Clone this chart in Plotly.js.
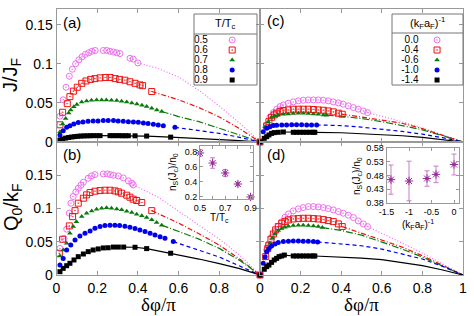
<!DOCTYPE html>
<html><head><meta charset="utf-8">
<script src="https://cdn.plot.ly/plotly-3.0.1.min.js"></script>
<style>html,body{margin:0;padding:0;background:#fff}#chart{width:474px;height:316px}</style>
</head><body><div id="chart"></div>
<script>
// ---------- legend labels ----------
const tempLabels = ['0.5','0.6','0.7','0.8','0.9'];
const kaLabels = ['0.0','-0.4','-0.6','-1.0','-1.4'];

// ---------- panel (a): J/J_F, temperature series ----------
const a1x=[0.017,0.033,0.047,0.063,0.078,0.094,0.110,0.126,0.142,0.158,0.174,0.190,0.230,0.247,0.263,0.280,0.296,0.312,0.361,0.377,0.400];
const a1y=[0.033,0.054,0.070,0.084,0.093,0.100,0.105,0.109,0.112,0.114,0.116,0.117,0.117,0.117,0.116,0.115,0.114,0.113,0.107,0.106,0.101];
const a1cx=[0.400,0.5,0.6,0.7,0.8,0.9,1.0];
const a1cy=[0.101,0.094,0.083,0.066,0.046,0.024,0];
const a2x=[0.017,0.030,0.053,0.066,0.083,0.102,0.124,0.145,0.168,0.189,0.214,0.240,0.263,0.288,0.310,0.336,0.361,0.386,0.410,0.423,0.468];
const a2y=[0.022,0.038,0.049,0.058,0.065,0.070,0.075,0.078,0.080,0.081,0.082,0.0825,0.0825,0.081,0.080,0.079,0.077,0.075,0.073,0.072,0.0645];
const a2cx=[0.468,0.6,0.7,0.8,0.9,1.0];
const a2cy=[0.0645,0.054,0.044,0.032,0.017,0];
const a3x=[0.017,0.030,0.045,0.060,0.070,0.085,0.100,0.124,0.148,0.172,0.197,0.222,0.245,0.270,0.296,0.320,0.345,0.370,0.395,0.420,0.443,0.468,0.493,0.517];
const a3y=[0.013,0.023,0.030,0.037,0.041,0.045,0.048,0.051,0.0525,0.0534,0.0538,0.0538,0.0538,0.0534,0.053,0.052,0.051,0.050,0.0487,0.047,0.0453,0.0432,0.041,0.039];
const a3cx=[0.517,0.6,0.7,0.8,0.9,1.0];
const a3cy=[0.039,0.0325,0.026,0.018,0.009,0];
const a4x=[0.017,0.033,0.050,0.066,0.085,0.107,0.130,0.155,0.180,0.204,0.230,0.254,0.280,0.303,0.328,0.353,0.378,0.402,0.427,0.450,0.476,0.500,0.525,0.582];
const a4y=[0.009,0.0145,0.0188,0.0209,0.0231,0.0248,0.0256,0.0265,0.0269,0.0269,0.0274,0.0274,0.0274,0.0269,0.0265,0.026,0.0256,0.0252,0.0244,0.0235,0.0227,0.0218,0.0209,0.0188];
const a4cx=[0.582,0.7,0.8,0.9,1.0];
const a4cy=[0.0188,0.015,0.011,0.006,0];
const a5x=[0.017,0.030,0.045,0.060,0.075,0.090,0.105,0.120,0.135,0.150,0.165,0.180,0.197,0.214,0.263,0.278,0.293,0.308,0.323,0.338,0.353,0.386,0.443,0.561];
const a5y=[0.0026,0.0038,0.0050,0.0058,0.0064,0.0069,0.0073,0.0076,0.0078,0.0079,0.0080,0.0081,0.0081,0.0081,0.0081,0.0081,0.0081,0.0081,0.0080,0.0080,0.0080,0.0079,0.0076,0.0062];
const a5cx=[0.214,0.3,0.386,0.443,0.561,0.7,0.8,0.9,1.0];
const a5cy=[0.0081,0.0081,0.0079,0.0076,0.0062,0.0046,0.0033,0.0018,0];

// ---------- panel (b): Q0/k_F, temperature series ----------
const b1x=[0.017,0.037,0.050,0.063,0.071,0.082,0.095,0.107,0.120,0.132,0.156,0.172,0.189,0.230,0.250,0.265,0.280,0.304,0.328,0.353,0.370,0.377];
const b1y=[0.040,0.055,0.069,0.093,0.108,0.118,0.125,0.1305,0.135,0.1395,0.1455,0.149,0.151,0.152,0.152,0.151,0.150,0.149,0.146,0.1415,0.138,0.1355];
const b1cx=[0.377,0.5,0.6,0.7,0.8,0.9,1.0];
const b1cy=[0.1355,0.117,0.096,0.075,0.054,0.030,0];
const b2x=[0.014,0.030,0.063,0.079,0.091,0.107,0.132,0.148,0.165,0.189,0.214,0.238,0.263,0.287,0.304,0.320,0.345,0.361,0.377,0.394,0.419,0.468];
const b2y=[0.0327,0.0537,0.0738,0.0878,0.0968,0.108,0.1155,0.1205,0.124,0.126,0.127,0.1275,0.1275,0.1265,0.125,0.123,0.120,0.117,0.114,0.112,0.109,0.0968];
const b2cx=[0.468,0.6,0.7,0.8,0.9,1.0];
const b2cy=[0.0968,0.078,0.062,0.045,0.024,0];
const b3x=[0.017,0.033,0.050,0.066,0.082,0.098,0.124,0.148,0.173,0.197,0.222,0.246,0.270,0.296,0.320,0.345,0.370,0.394,0.419,0.443,0.468,0.492,0.517];
const b3y=[0.0286,0.0376,0.0477,0.0628,0.0728,0.080,0.0878,0.093,0.0964,0.099,0.1004,0.101,0.1004,0.0994,0.098,0.096,0.094,0.0914,0.089,0.0864,0.083,0.079,0.075];
const b3cx=[0.517,0.6,0.7,0.8,0.9,1.0];
const b3cy=[0.075,0.066,0.054,0.040,0.022,0];
const b4x=[0.017,0.033,0.050,0.070,0.091,0.115,0.140,0.165,0.189,0.214,0.238,0.263,0.287,0.310,0.336,0.361,0.386,0.410,0.435,0.460,0.484,0.509,0.533,0.574];
const b4y=[0.015,0.025,0.0376,0.045,0.0527,0.0587,0.0628,0.0663,0.0703,0.0728,0.0743,0.0748,0.0748,0.0743,0.0733,0.0718,0.0698,0.0678,0.0653,0.0628,0.0602,0.0577,0.0552,0.0502];
const b4cx=[0.574,0.7,0.8,0.9,1.0];
const b4cy=[0.0502,0.037,0.027,0.0135,0];
const b5x=[0.017,0.033,0.050,0.066,0.086,0.107,0.132,0.156,0.180,0.205,0.230,0.254,0.280,0.304,0.330,0.386,0.443,0.561];
const b5y=[0.005,0.010,0.014,0.0176,0.0226,0.0276,0.0316,0.0351,0.0376,0.0392,0.0407,0.041,0.042,0.042,0.042,0.0417,0.0397,0.0327];
const b5cx=[0.330,0.386,0.443,0.561,0.7,0.8,0.9,1.0];
const b5cy=[0.042,0.0417,0.0397,0.0327,0.024,0.017,0.0095,0];

// ---------- panel (c): J/J_F, interaction series ----------
const c1x=[0,0.033,0.049,0.066,0.082,0.099,0.115,0.139,0.164,0.189,0.213,0.238,0.263,0.287,0.312,0.336,0.361,0.386,0.410,0.435,0.460,0.484,0.509,0.530];
const c1y=[0,0.0218,0.0316,0.0376,0.0419,0.0453,0.0474,0.0496,0.0513,0.0526,0.0534,0.0538,0.0538,0.0538,0.0534,0.0526,0.0513,0.050,0.0483,0.0462,0.044,0.042,0.0397,0.0376];
const c1cx=[0.530,0.6,0.7,0.8,0.9,1.0];
const c1cy=[0.0376,0.033,0.026,0.018,0.009,0];
const c2x=[0,0.033,0.044,0.057,0.070,0.082,0.099,0.115,0.139,0.164,0.189,0.213,0.238,0.263,0.287,0.312,0.336,0.361,0.386,0.405];
const c2y=[0,0.0205,0.026,0.0316,0.0346,0.0368,0.0389,0.0402,0.041,0.0419,0.0419,0.0419,0.0419,0.0415,0.041,0.0406,0.0397,0.0385,0.0368,0.0355];
const c2cx=[0.405,0.5,0.6,0.7,0.8,0.9,1.0];
const c2cy=[0.0355,0.032,0.028,0.024,0.017,0.0085,0];
const c3x=[0,0.025,0.041,0.057,0.074,0.090,0.115,0.139,0.164,0.189,0.213,0.238,0.263,0.287,0.312,0.328];
const c3y=[0,0.0196,0.026,0.0316,0.0333,0.0346,0.0355,0.0359,0.0363,0.0368,0.0368,0.0363,0.0359,0.0355,0.0346,0.0342];
const c3cx=[0.328,0.4,0.5,0.6,0.7,0.8,0.9,1.0];
const c3cy=[0.0342,0.033,0.030,0.026,0.021,0.0155,0.008,0];
const c4x=[0,0.016,0.033,0.049,0.066,0.082,0.107,0.131,0.156,0.180,0.205,0.230,0.254,0.279];
const c4y=[0,0.0132,0.0175,0.0196,0.021,0.0214,0.0218,0.0218,0.0222,0.0222,0.0222,0.0218,0.0218,0.0218];
const c4cx=[0.279,0.4,0.5,0.6,0.7,0.8,0.9,1.0];
const c4cy=[0.0218,0.021,0.019,0.0165,0.0135,0.010,0.0055,0];
const c5x=[0,0.021,0.033,0.044,0.057,0.070,0.090,0.115,0.164,0.180,0.197,0.213,0.230,0.246,0.262,0.270];
const c5y=[0,0.0047,0.0068,0.009,0.011,0.012,0.0124,0.0128,0.0124,0.0124,0.0124,0.0124,0.0124,0.0124,0.0124,0.0124];
const c5cx=[0.115,0.164,0.270,0.4,0.5,0.6,0.7,0.8,0.9,1.0];
const c5cy=[0.0128,0.0124,0.0124,0.0118,0.0108,0.0095,0.008,0.006,0.0033,0];

// ---------- panel (d): Q0/k_F, interaction series ----------
const d1x=[0,0.033,0.041,0.058,0.074,0.090,0.107,0.123,0.140,0.164,0.189,0.213,0.238,0.263,0.287,0.312,0.336,0.361,0.386,0.410,0.435,0.460,0.484,0.509,0.530];
const d1y=[0,0.0376,0.045,0.0567,0.0653,0.0728,0.080,0.0868,0.0918,0.0964,0.0994,0.1014,0.1029,0.1029,0.1024,0.1014,0.0999,0.0979,0.0954,0.0929,0.0899,0.0864,0.0813,0.0768,0.0728];
const d1cx=[0.530,0.6,0.7,0.8,0.9,1.0];
const d1cy=[0.0728,0.063,0.048,0.033,0.017,0];
const d2x=[0,0.028,0.038,0.044,0.054,0.066,0.077,0.090,0.107,0.123,0.140,0.164,0.189,0.213,0.238,0.263,0.287,0.312,0.336,0.361,0.386,0.405];
const d2y=[0,0.0276,0.0396,0.045,0.0538,0.0617,0.0678,0.0728,0.0778,0.0803,0.0828,0.0843,0.0848,0.0853,0.0853,0.0848,0.0843,0.0833,0.0818,0.0803,0.0768,0.0728];
const d2cx=[0.405,0.5,0.6,0.7,0.8,0.9,1.0];
const d2cy=[0.0728,0.063,0.053,0.042,0.029,0.015,0];
const d3x=[0,0.025,0.036,0.049,0.061,0.074,0.090,0.107,0.123,0.140,0.164,0.189,0.213,0.238,0.263,0.287,0.307];
const d3y=[0,0.025,0.0376,0.0477,0.0552,0.0617,0.0668,0.0698,0.0718,0.0733,0.0743,0.0748,0.0748,0.0743,0.0738,0.0728,0.0713];
const d3cx=[0.307,0.4,0.5,0.6,0.7,0.8,0.9,1.0];
const d3cy=[0.0713,0.067,0.060,0.050,0.039,0.027,0.014,0];
const d4x=[0,0.016,0.025,0.033,0.044,0.057,0.074,0.090,0.115,0.140,0.164,0.189,0.213,0.238,0.263,0.284];
const d4y=[0,0.0176,0.0276,0.035,0.040,0.0437,0.0467,0.0487,0.0502,0.0507,0.0512,0.0512,0.0507,0.0507,0.0502,0.0497];
const d4cx=[0.284,0.4,0.5,0.6,0.7,0.8,0.9,1.0];
const d4cy=[0.0497,0.047,0.044,0.039,0.032,0.024,0.013,0];
const d5x=[0,0.021,0.033,0.044,0.057,0.070,0.082,0.094,0.107,0.120,0.164,0.180,0.197,0.213,0.230,0.246,0.262,0.270];
const d5y=[0,0.0086,0.0126,0.015,0.019,0.0226,0.025,0.0276,0.0286,0.030,0.0286,0.0286,0.0286,0.0286,0.0286,0.0286,0.0286,0.0286];
const d5cx=[0.120,0.164,0.270,0.4,0.5,0.6,0.7,0.8,0.9,1.0];
const d5cy=[0.030,0.0286,0.0286,0.027,0.0255,0.023,0.019,0.014,0.0075,0];

// ---------- insets ----------
const insetT=[0.5,0.6,0.7,0.8,0.9];
const insetTns=[0.787,0.653,0.52,0.373,0.2];
const insetTerr=[0.045,0.07,0.045,0.025,0.015];
const insetK=[-1.4,-1.0,-0.6,-0.4,0.0];
const insetKns=[0.465,0.46,0.469,0.484,0.52];
const insetKerr=[0.053,0.072,0.028,0.03,0.038];

// ---------- styles ----------
const styles=[
  {color:'#ee6fee', symbol:'circle-open-dot', size:6, dash:'1px,2px', open:true},
  {color:'#ee1111', symbol:'square-open-dot', size:6, dash:'5px,2px,1px,2px', open:true},
  {color:'#0a7a0a', symbol:'triangle-up', size:5, dash:'7px,2px,1px,2px', open:false},
  {color:'#0000ee', symbol:'circle', size:5, dash:'4px,3px', open:false},
  {color:'#000000', symbol:'square', size:5, dash:'solid', open:false}
];

const W=474,H=316;
const fx=p=>p/W, fy=p=>1-p/H;
const FONT='Liberation Sans, Arial, sans-serif';

const panels=[
  {xa:'x',ya:'y',  m:[[a1x,a1y],[a2x,a2y],[a3x,a3y],[a4x,a4y],[a5x,a5y]], c:[[a1cx,a1cy],[a2cx,a2cy],[a3cx,a3cy],[a4cx,a4cy],[a5cx,a5cy]]},
  {xa:'x2',ya:'y2',m:[[b1x,b1y],[b2x,b2y],[b3x,b3y],[b4x,b4y],[b5x,b5y]], c:[[b1cx,b1cy],[b2cx,b2cy],[b3cx,b3cy],[b4cx,b4cy],[b5cx,b5cy]]},
  {xa:'x3',ya:'y3',m:[[c1x,c1y],[c2x,c2y],[c3x,c3y],[c4x,c4y],[c5x,c5y]], c:[[c1cx,c1cy],[c2cx,c2cy],[c3cx,c3cy],[c4cx,c4cy],[c5cx,c5cy]]},
  {xa:'x4',ya:'y4',m:[[d1x,d1y],[d2x,d2y],[d3x,d3y],[d4x,d4y],[d5x,d5y]], c:[[d1cx,d1cy],[d2cx,d2cy],[d3cx,d3cy],[d4cx,d4cy],[d5cx,d5cy]]}
];

const traces=[];
panels.forEach(p=>{
  p.c.forEach((s,i)=>{
    const st=styles[i];
    traces.push({x:s[0],y:s[1],mode:'lines',xaxis:p.xa,yaxis:p.ya,
      line:{color:st.color,width:1.2,dash:st.dash},hoverinfo:'skip',showlegend:false});
  });
  p.m.forEach((s,i)=>{
    const st=styles[i];
    traces.push({x:s[0],y:s[1],mode:'markers',xaxis:p.xa,yaxis:p.ya,cliponaxis:false,
      marker:{symbol:st.symbol,size:st.size,color:st.color,line:{color:st.color,width:st.open?1:0}},
      hoverinfo:'skip',showlegend:false});
  });
});

// legend keys (table-style legends)
function legendKeys(labels,xa,ya,labelX,markX,pos){
  const rows=labels.map((_,i)=>i);
  traces.push({x:labels.map(()=>labelX),y:rows,text:labels,mode:'text',textposition:pos,
    textfont:{family:FONT,size:10,color:'#000'},xaxis:xa,yaxis:ya,cliponaxis:false,hoverinfo:'skip',showlegend:false});
  styles.forEach((st,i)=>{
    traces.push({x:[markX],y:[rows[i]],mode:'markers',xaxis:xa,yaxis:ya,cliponaxis:false,
      marker:{symbol:st.symbol,size:st.size,color:st.color,line:{color:st.color,width:st.open?1:0}},
      hoverinfo:'skip',showlegend:false});
  });
}
legendKeys(tempLabels,'x7','y7',0,0.83,'middle right');
legendKeys(kaLabels,'x8','y8',0.5,0.85,'middle left');

// insets
const IC='#9a2f9a', IE='#c77cc7';
[[insetT,insetTns,insetTerr,'x5','y5'],[insetK,insetKns,insetKerr,'x6','y6']].forEach(d=>{
  traces.push({x:d[0],y:d[1],mode:'markers',xaxis:d[3],yaxis:d[4],cliponaxis:false,
    error_y:{type:'data',array:d[2],visible:true,color:IE,thickness:1,width:2.5},
    marker:{symbol:'asterisk-open',size:7,color:IC,line:{color:IC,width:1}},hoverinfo:'skip',showlegend:false});
  traces.push({x:d[0],y:d[1],mode:'markers',xaxis:d[3],yaxis:d[4],cliponaxis:false,
    marker:{symbol:'square',size:3,color:IC},hoverinfo:'skip',showlegend:false});
});

function ax(extra){
  return Object.assign({showline:true,linecolor:'#999',linewidth:1,mirror:'ticks',ticks:'inside',ticklen:4,
    tickcolor:'#999',tickwidth:1,showgrid:false,zeroline:false,fixedrange:true,
    tickfont:{family:FONT,size:14,color:'#000'}},extra);
}
const xL=[fx(56.5),fx(260)], xR=[fx(260),fx(463)], yT=[fy(142),fy(9)], yB=[fy(275),fy(142)];
const xtL=[0,0.2,0.4,0.6,0.8];
const xtR=[0,0.2,0.4,0.6,0.8,1.0];
const yt=[0,0.05,0.1,0.15];
const smallFont={family:FONT,size:9,color:'#000'};
const minorT={tickmode:'array',tickvals:[0.6,0.8],ticks:'inside',ticklen:3,tickcolor:'#999'};

const layout={
  width:W,height:H,margin:{l:0,r:0,t:0,b:0},paper_bgcolor:'#fff',plot_bgcolor:'rgba(0,0,0,0)',
  showlegend:false,font:{family:FONT,color:'#000'},
  xaxis: ax({domain:xL,range:[0,1],anchor:'y',tickvals:xtL,showticklabels:false}),
  yaxis: ax({domain:yT,range:[0,0.17],anchor:'x',tickvals:yt}),
  xaxis2:ax({domain:xL,range:[0,1],anchor:'y2',tickvals:xtL}),
  yaxis2:ax({domain:yB,range:[0,0.2],anchor:'x2',tickvals:yt}),
  xaxis3:ax({domain:xR,range:[0,1],anchor:'y3',tickvals:xtR,showticklabels:false}),
  yaxis3:ax({domain:yT,range:[0,0.17],anchor:'x3',tickvals:yt,showticklabels:false}),
  xaxis4:ax({domain:xR,range:[0,1],anchor:'y4',tickvals:xtR,ticktext:['0','0.2','0.4','0.6','0.8','1']}),
  yaxis4:ax({domain:yB,range:[0,0.2],anchor:'x4',tickvals:yt,showticklabels:false}),
  xaxis5:ax({domain:[fx(200),fx(253)],range:[0.5,0.92],anchor:'y5',tickvals:[0.5,0.7,0.9],minor:minorT,ticklen:3,tickfont:smallFont}),
  yaxis5:ax({domain:[fy(199),fy(146)],range:[0.173,0.88],anchor:'x5',tickvals:[0.2,0.4,0.6,0.8],ticklen:3,tickfont:smallFont}),
  xaxis6:ax({domain:[fx(386.5),fx(458.5)],range:[-1.5,0.1],anchor:'y6',tickvals:[-1.5,-1,-0.5,0],ticktext:['-1.5','-1','-0.5','0'],ticklen:3,tickfont:smallFont}),
  yaxis6:ax({domain:[fy(203),fy(148)],range:[0.38,0.58],anchor:'x6',tickvals:[0.38,0.43,0.48,0.53,0.58],ticklen:3,tickfont:smallFont}),
  xaxis7:{domain:[fx(194),fx(240)],range:[0,1],anchor:'y7',visible:false,fixedrange:true},
  yaxis7:{domain:[fy(85),fy(35)],range:[4.5,-0.5],anchor:'x7',visible:false,fixedrange:true},
  xaxis8:{domain:[fx(392),fx(445)],range:[0,1],anchor:'y8',visible:false,fixedrange:true},
  yaxis8:{domain:[fy(85),fy(35)],range:[4.5,-0.5],anchor:'x8',visible:false,fixedrange:true},
  shapes:[
    {type:'rect',xref:'paper',yref:'paper',x0:fx(194),x1:fx(257),y0:fy(85),y1:fy(14),line:{color:'#777',width:1}},
    {type:'line',xref:'paper',yref:'paper',x0:fx(194),x1:fx(257),y0:fy(34),y1:fy(34),line:{color:'#777',width:1}},
    {type:'rect',xref:'paper',yref:'paper',x0:fx(392),x1:fx(463),y0:fy(85),y1:fy(14),line:{color:'#777',width:1}},
    {type:'line',xref:'paper',yref:'paper',x0:fx(392),x1:fx(463),y0:fy(33),y1:fy(33),line:{color:'#777',width:1}}
  ],
  annotations:[]
};
function ann(text,px,py,size,extra){
  layout.annotations.push(Object.assign({text:text,xref:'paper',yref:'paper',x:fx(px),y:fy(py),
    xanchor:'center',yanchor:'middle',showarrow:false,font:{family:FONT,size:size,color:'#000'}},extra||{}));
}
const SERIF={family:'Liberation Serif, Times New Roman, serif',size:19,color:'#000'};
ann('J/J<sub>F</sub>',12,75,20,{textangle:-90});
ann('Q<sub>0</sub>/k<sub>F</sub>',12,208,20,{textangle:-90});
ann('δφ/π',158,304,19,{font:SERIF});
ann('δφ/π',361,304,19,{font:SERIF});
ann('(a)',72,22,15); ann('(b)',72,155,15); ann('(c)',276,20,15); ann('(d)',276,155,15);
ann('T/T<sub>c</sub>',225.5,24,11);
ann('(k<sub>F</sub>a<sub>F</sub>)<sup>-1</sup>',427,23,11);
ann('n<sub>S</sub>(J<sub>c</sub>)/n<sub>0</sub>',173,172,10,{textangle:-90});
ann('T/T<sub>c</sub>',219,218,10);
ann('n<sub>S</sub>(J<sub>c</sub>)/n<sub>0</sub>',357,176,10,{textangle:-90});
ann('(k<sub>F</sub>a<sub>F</sub>)<sup>-1</sup>',418,224,10);

Plotly.newPlot('chart',traces,layout,{staticPlot:true,displayModeBar:false});
</script></body></html>
